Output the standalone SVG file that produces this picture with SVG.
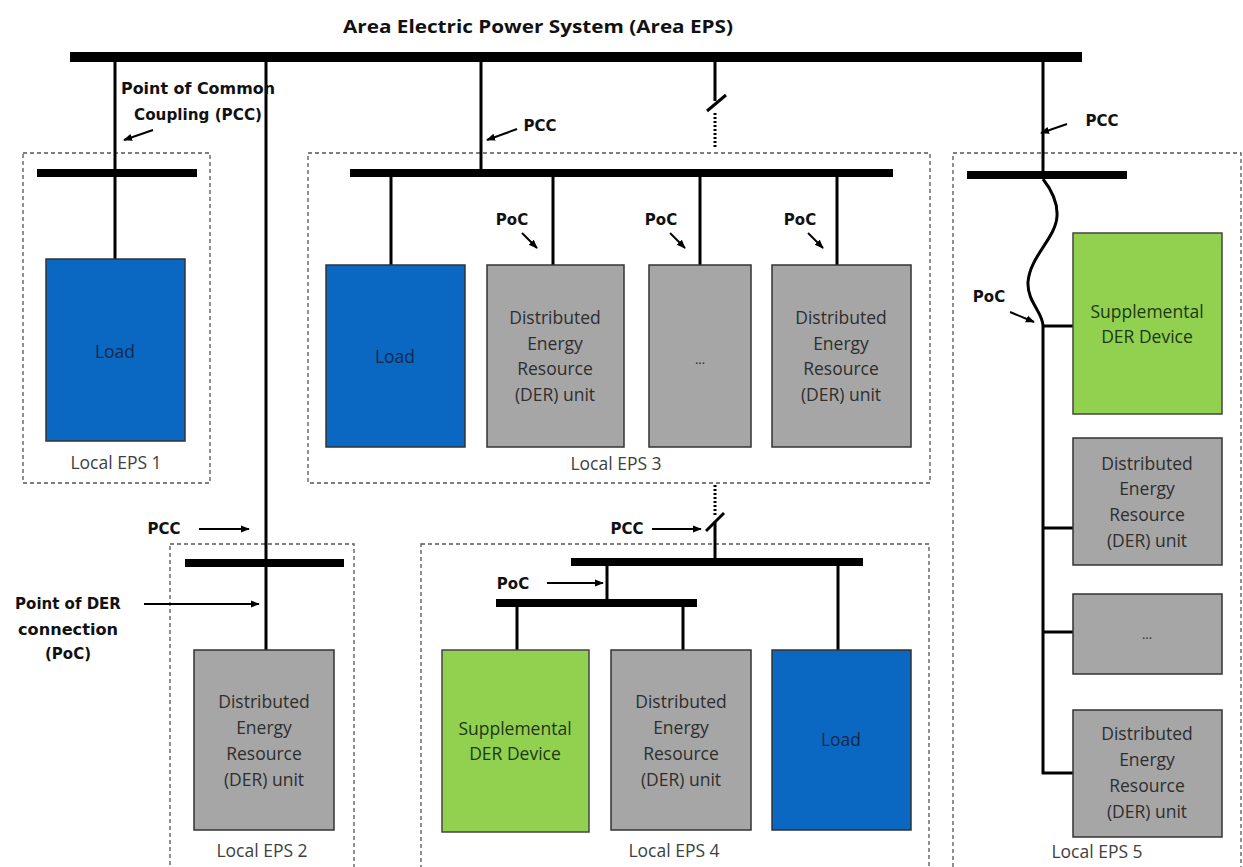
<svg xmlns="http://www.w3.org/2000/svg" width="1243" height="867" viewBox="0 0 1243 867">
<style>
.bus{fill:#000}
.wire{stroke:#000;stroke-width:3;fill:none}
.dot{stroke:#000;stroke-width:3;fill:none;stroke-dasharray:2 2}
.arr{stroke:#000;stroke-width:2;fill:none;marker-end:url(#ah)}
.eps{fill:none;stroke:#555;stroke-width:1.3;stroke-dasharray:4 3}
.blue{fill:#0a67c2;stroke:#333;stroke-width:1.5}
.green{fill:#92d050;stroke:#444;stroke-width:1.5}
.gray{fill:#a6a6a6;stroke:#333;stroke-width:1.5}
.t{font-family:"Open Sans","Liberation Sans",sans-serif;font-size:17.5px;text-anchor:middle}
.tg{fill:#2e2e2e}
.tb{fill:#16294d}
.tgr{fill:#1c3814}
.lbl{font-family:"Open Sans","Liberation Sans",sans-serif;font-size:17.5px;text-anchor:middle;fill:#404040}
.b{font-family:"DejaVu Sans","Liberation Sans",sans-serif;font-weight:bold;font-size:15px;text-anchor:middle;fill:#111}
.title{font-family:"Open Sans","Liberation Sans",sans-serif;font-weight:bold;font-size:18px;text-anchor:middle;fill:#111}
</style>
<defs>
<marker id="ah" viewBox="0 0 10 10" refX="9" refY="5" markerWidth="9" markerHeight="9" markerUnits="userSpaceOnUse" orient="auto">
<path d="M0,1 L10,5 L0,9 z" fill="#000"/>
</marker>
</defs>
<rect width="1243" height="867" fill="#fff"/>

<text class="title" x="538" y="33" textLength="390" lengthAdjust="spacingAndGlyphs">Area Electric Power System (Area EPS)</text>

<g id="eps-boxes">
<rect id="eps1-box" class="eps" x="23" y="153" width="187" height="330"/>
<rect id="eps3-box" class="eps" x="308" y="153" width="622" height="330"/>
<rect id="eps5-box" class="eps" x="953" y="153" width="288" height="720"/>
<rect id="eps2-box" class="eps" x="170" y="544" width="184" height="330"/>
<rect id="eps4-box" class="eps" x="421" y="544" width="508" height="330"/>
</g>

<g id="connectors">
<rect class="bus" x="70" y="52" width="1012" height="10"/>
<rect class="bus" x="37" y="169" width="160" height="8"/>
<rect class="bus" x="350" y="169" width="543" height="8"/>
<rect class="bus" x="967" y="171" width="160" height="8"/>
<rect class="bus" x="185" y="559" width="159" height="8"/>
<rect class="bus" x="571" y="558" width="292" height="8"/>
<rect class="bus" x="496" y="599" width="201" height="8"/>
<line class="wire" x1="115" y1="62" x2="115" y2="259"/>
<line class="wire" x1="266" y1="62" x2="266" y2="650"/>
<line class="wire" x1="481" y1="62" x2="481" y2="170"/>
<line class="wire" x1="715" y1="62" x2="715" y2="101"/>
<line class="wire" x1="707" y1="111" x2="726" y2="95"/>
<line class="dot" x1="715" y1="113" x2="715" y2="149"/>
<line class="wire" x1="1043" y1="62" x2="1043" y2="172"/>
<line class="wire" x1="391" y1="177" x2="391" y2="265"/>
<line class="wire" x1="553" y1="177" x2="553" y2="265"/>
<line class="wire" x1="700" y1="177" x2="700" y2="265"/>
<line class="wire" x1="837" y1="177" x2="837" y2="265"/>
<line class="dot" x1="715" y1="485" x2="715" y2="515"/>
<line class="wire" x1="706" y1="531" x2="724" y2="513"/>
<line class="wire" x1="715" y1="521" x2="715" y2="559"/>
<line class="wire" x1="607" y1="566" x2="607" y2="600"/>
<line class="wire" x1="517" y1="607" x2="517" y2="650"/>
<line class="wire" x1="683" y1="607" x2="683" y2="650"/>
<line class="wire" x1="838" y1="566" x2="838" y2="650"/>
<path class="wire" d="M1043,179 C1050,188 1058,200 1057,216 C1056,238 1030,256 1028,282 C1027,302 1043,312 1043,326"/>
<line class="wire" x1="1043" y1="326" x2="1043" y2="774"/>
<line class="wire" x1="1042" y1="326" x2="1073" y2="326"/>
<line class="wire" x1="1042" y1="528" x2="1073" y2="528"/>
<line class="wire" x1="1042" y1="632" x2="1073" y2="632"/>
<line class="wire" x1="1042" y1="773" x2="1073" y2="773"/>
<line class="arr" x1="153" y1="130" x2="124" y2="140"/>
<line class="arr" x1="517" y1="129" x2="487" y2="140"/>
<line class="arr" x1="1067" y1="124" x2="1041" y2="133"/>
<line class="arr" x1="522" y1="233" x2="537" y2="248"/>
<line class="arr" x1="670" y1="233" x2="685" y2="248"/>
<line class="arr" x1="808" y1="233" x2="823" y2="248"/>
<line class="arr" x1="1010" y1="312" x2="1034" y2="322"/>
<line class="arr" x1="199" y1="529" x2="249" y2="529"/>
<line class="arr" x1="144" y1="604" x2="259" y2="604"/>
<line class="arr" x1="652" y1="529" x2="701" y2="529"/>
<line class="arr" x1="547" y1="583" x2="603" y2="583"/>
</g>

<g id="labels">
<text class="b" x="198" y="94" textLength="154" lengthAdjust="spacingAndGlyphs">Point of Common</text>
<text class="b" x="198" y="120" textLength="128" lengthAdjust="spacingAndGlyphs">Coupling (PCC)</text>
<text class="b" x="540" y="131">PCC</text>
<text class="b" x="1102" y="126">PCC</text>
<text class="b" x="512" y="225">PoC</text>
<text class="b" x="661" y="225">PoC</text>
<text class="b" x="800" y="225">PoC</text>
<text class="b" x="989" y="302">PoC</text>
<text class="b" x="164" y="534">PCC</text>
<text class="b" x="68" y="609">Point of DER</text>
<text class="b" x="68" y="635" textLength="100" lengthAdjust="spacingAndGlyphs">connection</text>
<text class="b" x="68" y="659">(PoC)</text>
<text class="b" x="627" y="534">PCC</text>
<text class="b" x="513" y="589">PoC</text>
</g>

<g id="eps1">
<g id="eps1-load"><rect class="blue" x="46" y="259" width="139" height="182"/><text class="t tb" x="115" y="358">Load</text></g>
<text class="lbl" x="116" y="469">Local EPS 1</text>
</g>

<g id="eps3">
<g id="eps3-load"><rect class="blue" x="326" y="265" width="139" height="182"/><text class="t tb" x="395" y="363">Load</text></g>
<g id="eps3-der1"><rect class="gray" x="487" y="265" width="137" height="182"/>
<text class="t tg" x="555" y="324">Distributed</text><text class="t tg" x="555" y="350">Energy</text><text class="t tg" x="555" y="375">Resource</text><text class="t tg" x="555" y="401">(DER) unit</text></g>
<g id="eps3-more"><rect class="gray" x="649" y="265" width="102" height="182"/><text class="t tg" x="700" y="364" style="font-size:13px">...</text></g>
<g id="eps3-der2"><rect class="gray" x="772" y="265" width="139" height="182"/>
<text class="t tg" x="841" y="324">Distributed</text><text class="t tg" x="841" y="350">Energy</text><text class="t tg" x="841" y="375">Resource</text><text class="t tg" x="841" y="401">(DER) unit</text></g>
<text class="lbl" x="616" y="470">Local EPS 3</text>
</g>

<g id="eps5">
<g id="eps5-supp"><rect class="green" x="1073" y="233" width="149" height="181"/>
<text class="t tgr" x="1147" y="318">Supplemental</text><text class="t tgr" x="1147" y="343">DER Device</text></g>
<g id="eps5-der1"><rect class="gray" x="1073" y="438" width="149" height="127"/>
<text class="t tg" x="1147" y="470">Distributed</text><text class="t tg" x="1147" y="495">Energy</text><text class="t tg" x="1147" y="521">Resource</text><text class="t tg" x="1147" y="547">(DER) unit</text></g>
<g id="eps5-more"><rect class="gray" x="1073" y="594" width="149" height="80"/><text class="t tg" x="1147" y="639" style="font-size:13px">...</text></g>
<g id="eps5-der2"><rect class="gray" x="1073" y="710" width="149" height="127"/>
<text class="t tg" x="1147" y="740">Distributed</text><text class="t tg" x="1147" y="766">Energy</text><text class="t tg" x="1147" y="792">Resource</text><text class="t tg" x="1147" y="818">(DER) unit</text></g>
<text class="lbl" x="1097" y="858">Local EPS 5</text>
</g>

<g id="eps2">
<g id="eps2-der"><rect class="gray" x="194" y="650" width="140" height="180"/>
<text class="t tg" x="264" y="708">Distributed</text><text class="t tg" x="264" y="734">Energy</text><text class="t tg" x="264" y="760">Resource</text><text class="t tg" x="264" y="786">(DER) unit</text></g>
<text class="lbl" x="262" y="857">Local EPS 2</text>
</g>

<g id="eps4">
<g id="eps4-supp"><rect class="green" x="442" y="650" width="147" height="182"/>
<text class="t tgr" x="515" y="735">Supplemental</text><text class="t tgr" x="515" y="760">DER Device</text></g>
<g id="eps4-der"><rect class="gray" x="611" y="650" width="140" height="180"/>
<text class="t tg" x="681" y="708">Distributed</text><text class="t tg" x="681" y="734">Energy</text><text class="t tg" x="681" y="760">Resource</text><text class="t tg" x="681" y="786">(DER) unit</text></g>
<g id="eps4-load"><rect class="blue" x="772" y="650" width="139" height="180"/><text class="t tb" x="841" y="746">Load</text></g>
<text class="lbl" x="674" y="857">Local EPS 4</text>
</g>
</svg>
